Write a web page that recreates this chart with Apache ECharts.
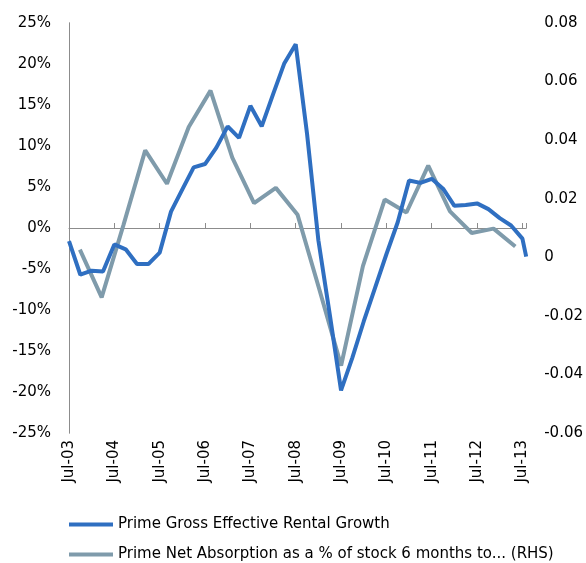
<!DOCTYPE html>
<html>
<head>
<meta charset="utf-8">
<script src="https://cdn.jsdelivr.net/npm/echarts@6/dist/echarts.min.js"></script>
<style>
html, body { margin: 0; padding: 0; background: #fff; }
#main { width: 586px; height: 563px; }
</style>
</head>
<body>
<div id="main"></div>
<script>
// quarterly rental growth (%), left axis
var rentalDates = ['Jul-03', 'Oct-03', 'Jan-04', 'Apr-04', 'Jul-04', 'Oct-04', 'Jan-05', 'Apr-05',
    'Jul-05', 'Oct-05', 'Jan-06', 'Apr-06', 'Jul-06', 'Oct-06', 'Jan-07', 'Apr-07',
    'Jul-07', 'Oct-07', 'Jan-08', 'Apr-08', 'Jul-08', 'Oct-08', 'Jan-09', 'Apr-09',
    'Jul-09', 'Oct-09', 'Jan-10', 'Apr-10', 'Jul-10', 'Oct-10', 'Jan-11', 'Apr-11',
    'Jul-11', 'Oct-11', 'Jan-12', 'Apr-12', 'Jul-12', 'Oct-12', 'Jan-13', 'Apr-13',
    'Jul-13', 'Aug-13'];
var rentalGrowth = [-1.6, -5.7, -5.2, -5.3, -2.0, -2.6, -4.4, -4.4,
    -3.0, 2.0, 4.7, 7.4, 7.8, 9.8, 12.4, 11.0,
    14.9, 12.4, 16.3, 20.1, 22.4, 11.5, -1.5, -10.5,
    -19.8, -15.8, -11.4, -7.3, -3.2, 0.7, 5.8, 5.5,
    6.0, 4.8, 2.7, 2.8, 3.0, 2.3, 1.2, 0.3,
    -1.3, -3.5];

// half-yearly net absorption as share of stock, right axis
var absorptionPeriods = ['Dec-03', 'Jun-04', 'Dec-04', 'Jun-05', 'Dec-05', 'Jun-06', 'Dec-06',
    'Jun-07', 'Dec-07', 'Jun-08', 'Dec-08', 'Jun-09', 'Dec-09', 'Jun-10', 'Dec-10',
    'Jun-11', 'Dec-11', 'Jun-12', 'Dec-12', 'Jun-13', 'Dec-13'];
var netAbsorption = [0.0026, -0.0137, 0.011, 0.0365, 0.0251, 0.0445, 0.0569,
    0.034, 0.0185, 0.0237, 0.0145, -0.011, -0.037, -0.003, 0.0197,
    0.0153, 0.0313, 0.0157, 0.0083, 0.0098, 0.0037];

var MONTHS = ['Jan', 'Feb', 'Mar', 'Apr', 'May', 'Jun', 'Jul', 'Aug', 'Sep', 'Oct', 'Nov', 'Dec'];

// months counted from Jul-03
function monthIndex(label) {
    var p = label.split('-');
    return (parseInt(p[1], 10) - 3) * 12 + MONTHS.indexOf(p[0]) - 6;
}

function monthLabel(v) {
    if (Math.round(v) % 12 !== 0) return '';
    var yr = 3 + Math.round(v) / 12;
    return 'Jul-' + (yr < 10 ? '0' + yr : yr);
}

var rentalData = [];
for (var i = 0; i < rentalDates.length; i++) {
    rentalData.push([monthIndex(rentalDates[i]), rentalGrowth[i]]);
}
var lastMonth = monthIndex(rentalDates[rentalDates.length - 1]);

var font = 'DejaVu Sans';
var axisGrey = '#8c8c8c';
var blue = '#2f6fc1';
var grey = '#7f9bab';
var seriesNames = ['Prime Gross Effective Rental Growth',
    'Prime Net Absorption as a % of stock 6 months to... (RHS)'];

function legendFor(name, top) {
    return {
        left: 64,
        top: top,
        icon: 'rect',
        itemWidth: 44,
        itemHeight: 4,
        textStyle: { fontFamily: font, fontSize: 15, color: '#000' },
        data: [name]
    };
}

var myChart = echarts.init(document.getElementById('main'));
var option = {
    animation: false,
    grid: { left: 69, right: 59, top: 23, bottom: 130 },
    legend: [legendFor(seriesNames[0], 512), legendFor(seriesNames[1], 542)],
    xAxis: [
        {
            // axis line drawn on the 0% level
            type: 'value', min: 0, max: lastMonth, interval: 12,
            axisLine: { onZero: true, onZeroAxisIndex: 0, lineStyle: { color: axisGrey, width: 1 } },
            axisTick: { show: true, inside: true, length: 5, lineStyle: { color: axisGrey } },
            axisLabel: { show: false },
            splitLine: { show: false }
        },
        {
            // category axis for the half-yearly series
            type: 'category', data: absorptionPeriods, boundaryGap: true,
            position: 'bottom', show: false
        },
        {
            // labels at the bottom
            type: 'value', min: 0, max: lastMonth, interval: 12, position: 'bottom',
            axisLine: { show: false, onZero: false },
            axisTick: { show: false },
            splitLine: { show: false },
            axisLabel: {
                rotate: 90, margin: 7, color: '#000', fontFamily: font, fontSize: 15,
                formatter: monthLabel
            }
        }
    ],
    yAxis: [
        {
            type: 'value', min: -25, max: 25, interval: 5,
            axisLine: { show: true, lineStyle: { color: axisGrey } },
            axisTick: { show: false },
            splitLine: { show: false },
            axisLabel: { margin: 18, color: '#000', fontFamily: font, fontSize: 15, formatter: '{value}%' }
        },
        {
            type: 'value', min: -0.06, max: 0.08, interval: 0.02, position: 'right',
            axisLine: { show: true, lineStyle: { color: axisGrey } },
            axisTick: { show: false },
            splitLine: { show: false },
            axisLabel: {
                margin: 18, color: '#000', fontFamily: font, fontSize: 15,
                formatter: function (v) {
                    if (Math.abs(v) < 1e-9) return '0';
                    return v.toFixed(2);
                }
            }
        }
    ],
    series: [
        {
            name: seriesNames[0],
            type: 'line',
            xAxisIndex: 0,
            yAxisIndex: 0,
            data: rentalData,
            symbol: 'none',
            lineStyle: { color: blue, width: 4 },
            itemStyle: { color: blue },
            z: 3
        },
        {
            name: seriesNames[1],
            type: 'line',
            xAxisIndex: 1,
            yAxisIndex: 1,
            data: netAbsorption,
            symbol: 'none',
            lineStyle: { color: grey, width: 4 },
            itemStyle: { color: grey },
            z: 2
        }
    ]
};
myChart.setOption(option);
</script>
</body>
</html>
